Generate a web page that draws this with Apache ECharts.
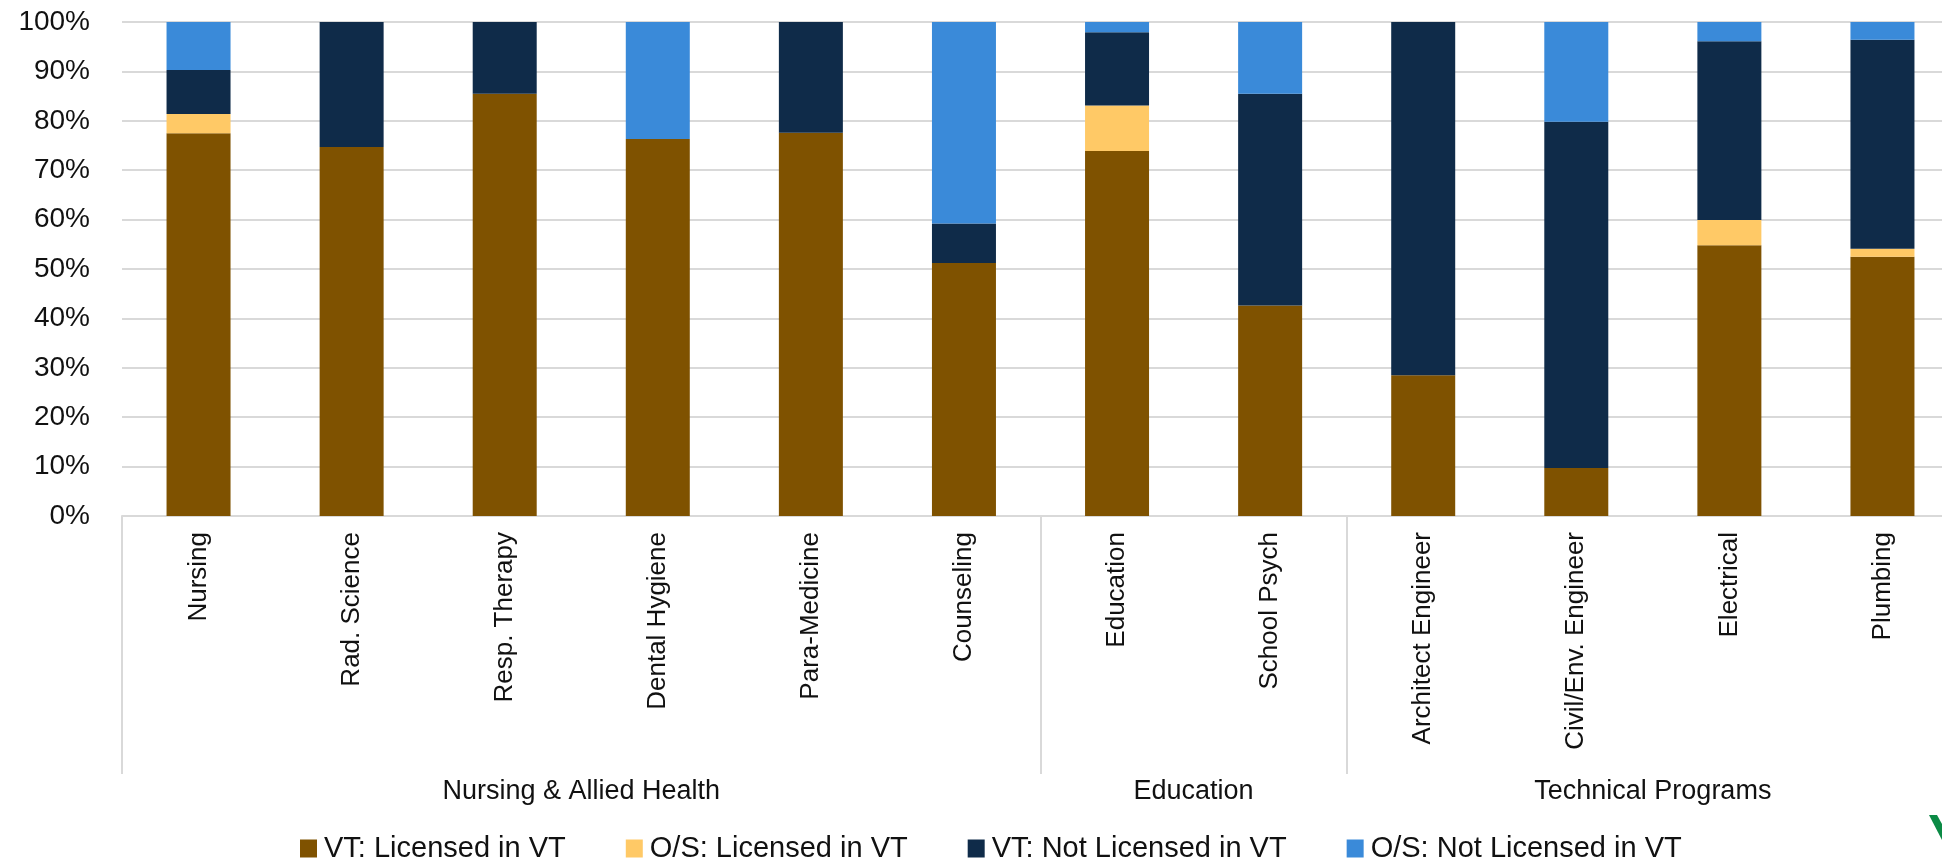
<!DOCTYPE html>
<html>
<head>
<meta charset="utf-8">
<title>Licensure by program</title>
<script src="https://cdn.jsdelivr.net/npm/echarts@6/dist/echarts.min.js"></script>
<style>
	html, body { margin: 0; padding: 0; background: #fff; }
	#chart { width: 1942px; height: 863px; }
</style>
</head>
<body>
<div id="chart"></div>
<script>
// programs along the x axis
const programs = [
	'Nursing', 'Rad. Science', 'Resp. Therapy', 'Dental Hygiene', 'Para-Medicine', 'Counseling',
	'Education', 'School Psych',
	'Architect Engineer', 'Civil/Env. Engineer', 'Electrical', 'Plumbing',
]
// group row under the labels: one slot per category boundary (13 of them)
const groupLabels = ['', '', '', 'Nursing & Allied Health', '', '', '', 'Education', '', '', 'Technical Programs', '', '']
const groupEdges = [0, 6, 8, 12]

// shares in %
const vtLicensed = [77.5, 74.7, 85.5, 76.3, 77.6, 51.2, 73.9, 42.6, 28.5, 9.7, 54.8, 52.5]
const osLicensed = [3.9, 0, 0, 0, 0, 0, 9.2, 0, 0, 0, 5.1, 1.6]
const vtNotLicensed = [8.9, 25.3, 14.5, 0, 22.4, 8.0, 14.8, 42.9, 71.5, 70.1, 36.2, 42.3]
const osNotLicensed = [9.7, 0, 0, 23.7, 0, 40.8, 2.1, 14.5, 0, 20.2, 3.9, 3.6]

const yTicks = [0, 10, 20, 30, 40, 50, 60, 70, 80, 90, 100]

const font = '"Liberation Sans", Arial, sans-serif'
const gridColor = '#d9d9d9'

const seriesDefs = [
	{ name: 'VT: Licensed in VT', data: vtLicensed, color: '#7f5200' },
	{ name: 'O/S: Licensed in VT', data: osLicensed, color: '#ffc966' },
	{ name: 'VT: Not Licensed in VT', data: vtNotLicensed, color: '#0f2b49' },
	{ name: 'O/S: Not Licensed in VT', data: osNotLicensed, color: '#3a8ad9' },
]

const myChart = echarts.init(document.getElementById('chart'))

const options = {
	animation: false,
	textStyle: { fontFamily: font },
	grid: {
		// plot runs a bit past the right edge of the slide
		left: 122,
		width: 1837,
		top: 22,
		height: 494,
		outerBoundsMode: 'none',
	},
	legend: {
		left: 300,
		top: 834,
		padding: 0,
		itemGap: 60,
		itemWidth: 17,
		itemHeight: 18,
		icon: 'rect',
		textStyle: {
			fontFamily: font,
			fontSize: 29,
			lineHeight: 28,
			color: '#111',
			padding: [0, 0, 0, 2],
		},
		data: seriesDefs.map((s) => s.name),
	},
	xAxis: [
		{
			type: 'category',
			data: programs,
			axisLine: { lineStyle: { color: gridColor, width: 2 } },
			axisTick: { show: false },
			axisLabel: {
				interval: 0,
				rotate: 90,
				margin: 16,
				fontSize: 26,
				fontFamily: font,
				color: '#111',
			},
		},
		{
			// group captions and separators
			type: 'category',
			position: 'bottom',
			boundaryGap: false,
			data: groupLabels,
			axisLine: { show: false },
			axisTick: {
				show: true,
				interval: (i) => groupEdges.includes(i),
				length: 258,
				lineStyle: { color: gridColor, width: 2 },
			},
			axisLabel: {
				interval: 0,
				margin: 262,
				fontSize: 27,
				fontFamily: font,
				color: '#111',
			},
			splitLine: { show: false },
		},
	],
	yAxis: {
		type: 'value',
		min: yTicks[0],
		max: yTicks[yTicks.length - 1],
		interval: yTicks[1] - yTicks[0],
		axisLine: { show: false },
		axisTick: { show: false },
		axisLabel: {
			formatter: '{value}%',
			margin: 32,
			fontSize: 28,
			fontFamily: font,
			color: '#111',
		},
		splitLine: { lineStyle: { color: gridColor, width: 2 } },
	},
	series: seriesDefs.map((s) => {
		return {
			name: s.name,
			type: 'bar',
			stack: 'share',
			xAxisIndex: 0,
			barWidth: 64,
			data: s.data,
			itemStyle: { color: s.color },
			emphasis: { disabled: true },
		}
	}),
	graphic: [
		{
			// corner of a logo cut off by the slide edge
			type: 'polygon',
			shape: { points: [[1929, 815], [1937, 815], [1942, 824], [1942, 840]] },
			style: { fill: '#0b8a45' },
			silent: true,
		},
	],
}

myChart.setOption(options)
</script>
</body>
</html>
